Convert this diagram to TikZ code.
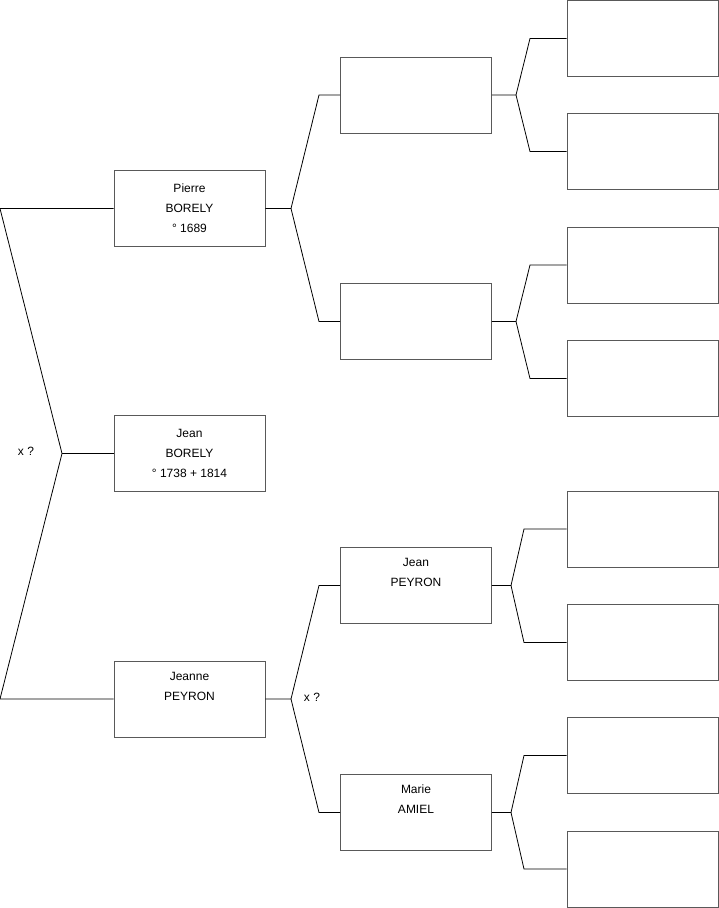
\documentclass[tikz,border=0pt]{standalone}
\usepackage{fontspec}
\setmainfont{Liberation Sans}
\begin{document}
\begin{tikzpicture}[x=1pt, y=-1pt,
    person/.style={draw=black!65, line width=0.8pt, minimum width=151pt, minimum height=76pt,
        inner sep=0pt, align=center, font=\fontsize{12}{20}\selectfont},
    link/.style={line width=0.8pt},
    marriage/.style={font=\fontsize{12}{14}\selectfont}]
    \useasboundingbox (0,0) rectangle (719,908);

    % generation 1
    \node[person] (pierre) at (189.5,208.5) {Pierre\\BORELY\\° 1689};
    \node[person] (jean)   at (189.5,453.5) {Jean\\BORELY\\° 1738 + 1814};
    \node[person] (jeanne) at (189.5,699)   {Jeanne\\PEYRON\\\strut};

    % generation 2
    \node[person] (pa)     at (416,95)    {};
    \node[person] (pb)     at (416,321.5) {};
    \node[person] (jeanp)  at (416,585.5) {Jean\\PEYRON\\\strut};
    \node[person] (marie)  at (416,812.5) {Marie\\AMIEL\\\strut};

    % generation 3
    \foreach \i/\y in {1/38.5, 2/151.5, 3/265, 4/378.5, 5/529, 6/642.5, 7/755.5, 8/869}
        \node[person] (g\i) at (642.5,\y) {};

    \node[marriage] (xa) at (26,451) {x ?};
    \node[marriage] (xb) at (312,697) {x ?};

    % links to Jean
    \coordinate (l1) at (0,208.5);
    \coordinate (l2) at (0,699);
    \coordinate (jm) at (62,453.5);
    \draw[link] (pierre.west) -- (l1) -- (jm) -- (l2) -- (jeanne.west);
    \draw[link] (jm) -- (jean.west);

    % links to Pierre and Jeanne
    \coordinate (jp) at (291,208.5);
    \coordinate (jj) at (291,699);
    \draw[link] (pierre.east) -- (jp) -- (319,95) -- (pa.west);
    \draw[link] (jp) -- (319,321.5) -- (pb.west);
    \draw[link] (jeanne.east) -- (jj) -- (319,585.5) -- (jeanp.west);
    \draw[link] (jj) -- (319,812.5) -- (marie.west);

    % links to generation 3
    \coordinate (ja) at (516,95);
    \coordinate (jb) at (516,321.5);
    \coordinate (jc) at (511,585.5);
    \coordinate (jd) at (511,812.5);
    \draw[link] (pa.east) -- (ja) -- (530,38.5) -- (g1.west);
    \draw[link] (ja) -- (530,151.5) -- (g2.west);
    \draw[link] (pb.east) -- (jb) -- (530,265) -- (g3.west);
    \draw[link] (jb) -- (530,378.5) -- (g4.west);
    \draw[link] (jeanp.east) -- (jc) -- (524,529) -- (g5.west);
    \draw[link] (jc) -- (524,642.5) -- (g6.west);
    \draw[link] (marie.east) -- (jd) -- (524,755.5) -- (g7.west);
    \draw[link] (jd) -- (524,869) -- (g8.west);
\end{tikzpicture}
\end{document}
